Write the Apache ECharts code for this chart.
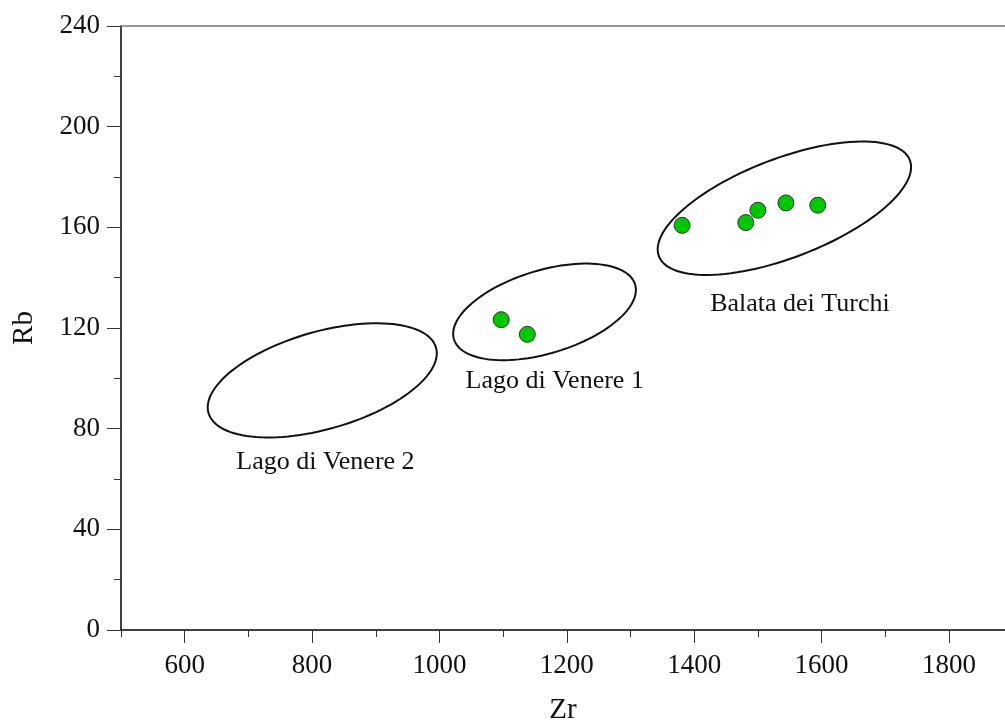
<!DOCTYPE html>
<html>
<head>
<meta charset="utf-8">
<script src="https://cdn.jsdelivr.net/npm/echarts@6/dist/echarts.min.js"></script>
<style>html,body{margin:0;padding:0;background:#fff}#c{width:1005px;height:727px}</style>
</head>
<body>
<div id="c"></div>
<script>
// ---- data ----
var xMajorTicks = [600, 800, 1000, 1200, 1400, 1600, 1800];
var xMinorTicks = [500, 700, 900, 1100, 1300, 1500, 1700];
var samplesZr = [1381, 1481, 1500, 1544, 1594, 1097, 1138];
var samplesRb = [160.8, 161.9, 166.8, 169.7, 168.8, 123.3, 117.5];
// ellipse: centre Zr, centre Rb, major half-axis (dZr, dRb), minor half-axis (dZr, dRb)
var fieldNames = ['Balata dei Turchi', 'Lago di Venere 1', 'Lago di Venere 2'];
var fieldCentreZr = [1541.6, 1165, 816];
var fieldCentreRb = [167.6, 126.4, 99.2];
var fieldMajor = [[197.0, 19.1], [142.2, 10.9], [178.6, 13.0]];
var fieldMinor = [[-27.8, 18.4], [-18.9, 15.8], [-21.1, 18.6]];
var labelZr = [1566, 1181, 821];
var labelRb = [129.3, 98.8, 66.8];

var FONT = '"Liberation Serif", "Times New Roman", serif';

var ellipseData = fieldNames.map(function (n, i) {
  return [fieldCentreZr[i], fieldCentreRb[i], fieldMajor[i][0], fieldMajor[i][1], fieldMinor[i][0], fieldMinor[i][1]];
});
var pointData = samplesZr.map(function (x, i) { return [x, samplesRb[i]]; });
var labelData = fieldNames.map(function (n, i) { return { name: n, value: [labelZr[i], labelRb[i]] }; });

var chart = echarts.init(document.getElementById('c'), null, { renderer: 'canvas' });
chart.setOption({
  animation: false,
  backgroundColor: '#fff',
  grid: { left: 121, right: 0, top: 26, bottom: 97, outerBoundsMode: 'none' },
  xAxis: [
    {
      type: 'value', min: 500, max: 1888, position: 'bottom',
      name: 'Zr', nameLocation: 'middle', nameGap: 66,
      nameTextStyle: { fontFamily: FONT, fontSize: 29, color: '#111' },
      axisLine: { show: true, lineStyle: { color: '#000', width: 1.5 } },
      axisTick: { show: true, customValues: xMajorTicks, length: 13, lineStyle: { color: '#333', width: 1 } },
      axisLabel: { show: true, customValues: xMajorTicks, formatter: function (v) { return String(v); },
        fontFamily: FONT, fontSize: 27, color: '#111', margin: 22 },
      splitLine: { show: false }
    },
    {
      type: 'value', min: 500, max: 1888, position: 'bottom',
      axisLine: { show: false },
      axisTick: { show: true, customValues: xMinorTicks, length: 7, lineStyle: { color: '#333', width: 1 } },
      axisLabel: { show: false },
      splitLine: { show: false }
    },
    {
      type: 'value', min: 500, max: 1888, position: 'top',
      axisLine: { show: true, lineStyle: { color: '#777', width: 1.5 } },
      axisTick: { show: false }, axisLabel: { show: false }, splitLine: { show: false }
    }
  ],
  yAxis: {
    type: 'value', min: 0, max: 240, interval: 40,
    name: 'Rb', nameLocation: 'middle', nameGap: 82,
    nameTextStyle: { fontFamily: FONT, fontSize: 29, color: '#111' },
    axisLine: { show: true, lineStyle: { color: '#000', width: 1.5 } },
    axisTick: { show: true, length: 14, lineStyle: { color: '#333', width: 1 } },
    minorTick: { show: true, splitNumber: 2, length: 7, lineStyle: { color: '#333', width: 1 } },
    axisLabel: { formatter: function (v) { return String(v); }, fontFamily: FONT, fontSize: 27, color: '#111', margin: 21 },
    splitLine: { show: false }, minorSplitLine: { show: false }
  },
  series: [
    {
      type: 'custom', xAxisIndex: 0, yAxisIndex: 0,
      data: ellipseData,
      encode: { x: 0, y: 1 },
      renderItem: function (params, api) {
        var cx = api.value(0), cy = api.value(1);
        var c = api.coord([cx, cy]);
        var pu = api.coord([cx + api.value(2), cy + api.value(3)]);
        var pv = api.coord([cx + api.value(4), cy + api.value(5)]);
        var ux = pu[0] - c[0], uy = pu[1] - c[1], vx = pv[0] - c[0], vy = pv[1] - c[1];
        var pts = [];
        var n = 120;
        for (var k = 0; k < n; k++) {
          var t = 2 * Math.PI * k / n;
          pts.push([c[0] + ux * Math.cos(t) + vx * Math.sin(t), c[1] + uy * Math.cos(t) + vy * Math.sin(t)]);
        }
        return { type: 'polygon', shape: { points: pts }, style: { fill: 'none', stroke: '#111', lineWidth: 2 } };
      },
      z: 2
    },
    {
      type: 'scatter', xAxisIndex: 0, yAxisIndex: 0,
      data: pointData, symbol: 'circle', symbolSize: 16,
      itemStyle: { color: '#00c800', borderColor: '#333', borderWidth: 1, opacity: 1 },
      z: 3
    },
    {
      type: 'scatter', xAxisIndex: 0, yAxisIndex: 0,
      data: labelData, symbolSize: 0,
      itemStyle: { color: '#000', opacity: 1 },
      label: { show: true, position: 'inside', formatter: '{b}', fontFamily: FONT, fontSize: 26,
        color: '#111', opacity: 1, textBorderWidth: 0, textShadowBlur: 0 },
      z: 4
    }
  ]
});
</script>
</body>
</html>
